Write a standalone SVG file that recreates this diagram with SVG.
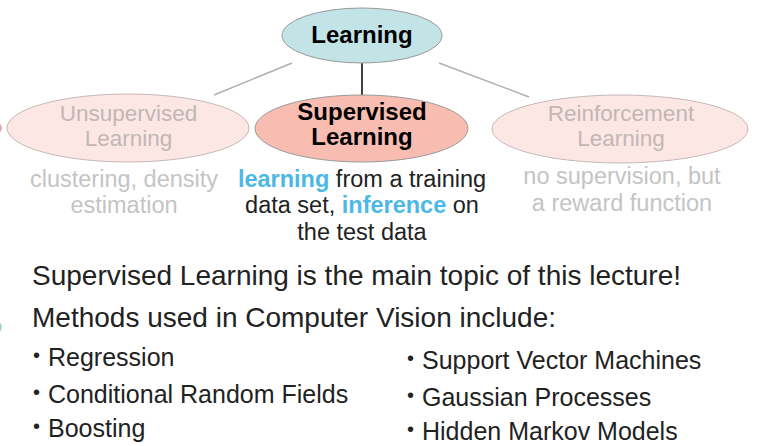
<svg xmlns="http://www.w3.org/2000/svg" width="757" height="446" viewBox="0 0 757 446">
<style>
text{font-family:"Liberation Sans",Arial,sans-serif}
.node{stroke:#999;stroke-width:1}
.faded{fill:#fde7e4;stroke:#b5aaaa;stroke-width:0.8}
.ntitle{font-size:24px;font-weight:bold;fill:#000;text-anchor:middle}
.ftitle{font-size:22.5px;fill:#c2b6b6;text-anchor:middle}
.sub{font-size:23.5px;text-anchor:middle}
.gray{fill:#c4c4c4}
.dark{fill:#222}
.hl{fill:#4bb8e6;font-weight:bold}
.main{font-size:28px;fill:#222}
.item{font-size:25px;fill:#222}
.bul{font-size:20px;fill:#222}
.conn{stroke:#b0b0b0;stroke-width:1.5;fill:none}
</style>
<rect width="757" height="446" fill="#fff"/>
<ellipse cx="-3" cy="128" rx="5" ry="5" fill="#d9b0a8"/>
<ellipse cx="-4" cy="327" rx="6" ry="6" fill="#a6d8c4"/>
<g id="connectors">
<line class="conn" x1="292" y1="63" x2="214" y2="95"/>
<line class="conn" x1="439" y1="63" x2="529" y2="97"/>
<line x1="362" y1="62" x2="362" y2="95" stroke="#000" stroke-width="1.5"/>
</g>
<g id="learning">
<ellipse class="node" cx="362" cy="35.5" rx="80" ry="27.5" fill="#c3e4e6"/>
<text class="ntitle" x="362" y="43">Learning</text>
</g>
<g id="supervised">
<ellipse class="node" cx="361.5" cy="128.5" rx="106.5" ry="33.5" fill="#f9bcb0"/>
<text class="ntitle" x="362" y="120">Supervised</text>
<text class="ntitle" x="362" y="145">Learning</text>
</g>
<g id="unsupervised">
<ellipse class="faded" cx="128" cy="128" rx="121" ry="34"/>
<text class="ftitle" x="128.5" y="121">Unsupervised</text>
<text class="ftitle" x="128.5" y="146">Learning</text>
</g>
<g id="reinforcement">
<ellipse class="faded" cx="620" cy="129" rx="128" ry="34"/>
<text class="ftitle" x="621" y="121">Reinforcement</text>
<text class="ftitle" x="621" y="146">Learning</text>
</g>
<g id="unsupervised-desc">
<text class="sub gray" x="124" y="187">clustering, density</text>
<text class="sub gray" x="124" y="213">estimation</text>
</g>
<g id="supervised-desc">
<text class="sub dark" x="362" y="187"><tspan class="hl">learning</tspan> from a training</text>
<text class="sub dark" x="362" y="213">data set, <tspan class="hl">inference</tspan> on</text>
<text class="sub dark" x="362" y="240">the test data</text>
</g>
<g id="reinforcement-desc">
<text class="sub gray" x="622" y="184">no supervision, but</text>
<text class="sub gray" x="622" y="211">a reward function</text>
</g>
<g id="body">
<text class="main" x="32" y="285">Supervised Learning is the main topic of this lecture!</text>
<text class="main" x="32" y="327">Methods used in Computer Vision include:</text>
<text class="bul" x="33" y="362">•</text>
<text class="item" x="48" y="366">Regression</text>
<text class="bul" x="33" y="399">•</text>
<text class="item" x="48" y="403">Conditional Random Fields</text>
<text class="bul" x="33" y="433">•</text>
<text class="item" x="48" y="437">Boosting</text>
<text class="bul" x="407" y="365">•</text>
<text class="item" x="422" y="369">Support Vector Machines</text>
<text class="bul" x="407" y="402">•</text>
<text class="item" x="422" y="406">Gaussian Processes</text>
<text class="bul" x="407" y="436">•</text>
<text class="item" x="422" y="440">Hidden Markov Models</text>
</g>
</svg>
